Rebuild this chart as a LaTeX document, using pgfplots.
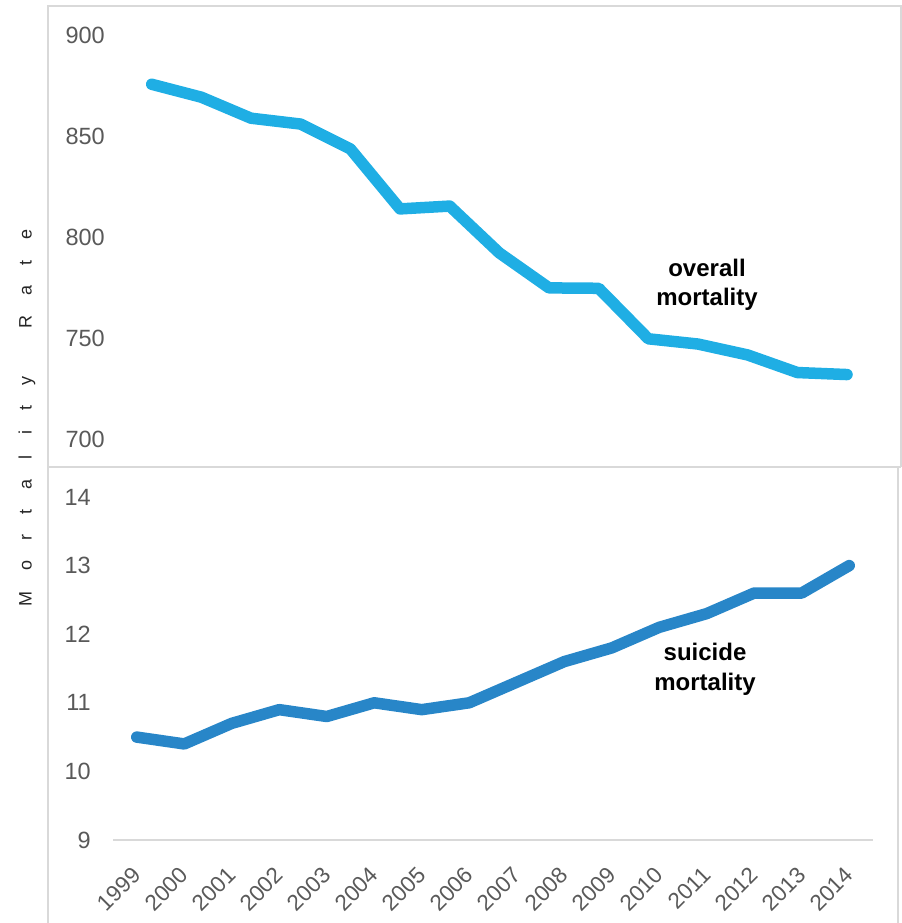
\documentclass[border=0pt]{standalone}
\usepackage{pgfplots}
\pgfplotsset{compat=1.18}
\usepackage{fontspec}
\setmainfont{Liberation Sans}
\definecolor{topblue}{RGB}{31,174,228}
\definecolor{botblue}{RGB}{40,134,200}
\definecolor{framegray}{RGB}{217,217,217}
\definecolor{tickgray}{RGB}{89,89,89}
\newcommand\ls{\hspace{20.2bp}}
\begin{document}
\begin{tikzpicture}[x=1bp,y=1bp]
\path[use as bounding box] (0,0) rectangle (902,923);
% frames
\draw[framegray, line width=1.6bp] (48,0) -- (48,917) -- (901,917) -- (901,456);
\draw[framegray, line width=1.6bp] (48,456) -- (901,456);
\draw[framegray, line width=1.6bp] (898,456) -- (898,0);

\begin{axis}[
  at={(115bp,456bp)}, anchor=south west,
  width=770bp, height=461bp, scale only axis,
  xmin=-0.739, xmax=14.765, ymin=686.14, ymax=914.36,
  axis line style={draw=none},
  xtick=\empty,
  ytick={700,750,800,850,900},
  major tick length=0pt,
  /pgf/number format/assume math mode=true,
  yticklabel style={anchor=east, inner sep=0pt, xshift=-10bp, font=\fontsize{23.5bp}{27bp}\selectfont, text=tickgray},
  clip=false,
]
\addplot[topblue, line width=11.5bp, line cap=round, line join=round] coordinates {
(0,875.6) (1,869.2) (2,858.8) (3,855.9) (4,843.6) (5,813.9) (6,815.3)
(7,792.1) (8,774.8) (9,774.6) (10,749.6) (11,747.0) (12,741.6) (13,732.9) (14,731.9)
};
\end{axis}

\begin{axis}[
  at={(113bp,83bp)}, anchor=south west,
  width=760bp, height=373bp, scale only axis,
  xmin=-0.5, xmax=15.5, ymin=9, ymax=14.437,
  axis x line*=bottom, axis y line*=left,
  y axis line style={draw=none},
  x axis line style={draw=framegray, line width=1.6bp, -},
  xtick={0,...,15},
  xticklabels={1999,2000,2001,2002,2003,2004,2005,2006,2007,2008,2009,2010,2011,2012,2013,2014},
  ytick={9,10,11,12,13,14},
  major tick length=0pt,
  /pgf/number format/assume math mode=true,
  yticklabel style={anchor=east, inner sep=0pt, xshift=-22bp, font=\fontsize{23.5bp}{27bp}\selectfont, text=tickgray},
  xticklabel style={yshift=-31bp, xshift=0bp, rotate=45, anchor=east, inner sep=0pt, font=\fontsize{22.5bp}{26bp}\selectfont, text=tickgray},
  clip=false,
]
\addplot[botblue, line width=11.5bp, line cap=round, line join=round] coordinates {
(0,10.5) (1,10.4) (2,10.7) (3,10.9) (4,10.8) (5,11.0) (6,10.9) (7,11.0)
(8,11.3) (9,11.6) (10,11.8) (11,12.1) (12,12.3) (13,12.6) (14,12.6) (15,13.0)
};
\end{axis}

\node[align=center, font=\bfseries\fontsize{24bp}{29bp}\selectfont, text=black] at (707,638.5) {overall\\mortality};
\node[align=center, font=\bfseries\fontsize{24bp}{30bp}\selectfont, text=black] at (705,254) {suicide\\mortality};
\node[rotate=90, font=\fontsize{18bp}{21bp}\selectfont, text=black!85] at (27,505) {M\ls o\ls r\ls t\ls a\ls l\ls i\ls t\ls y\hspace{48bp}R\ls a\ls t\ls e};
\end{tikzpicture}
\end{document}
